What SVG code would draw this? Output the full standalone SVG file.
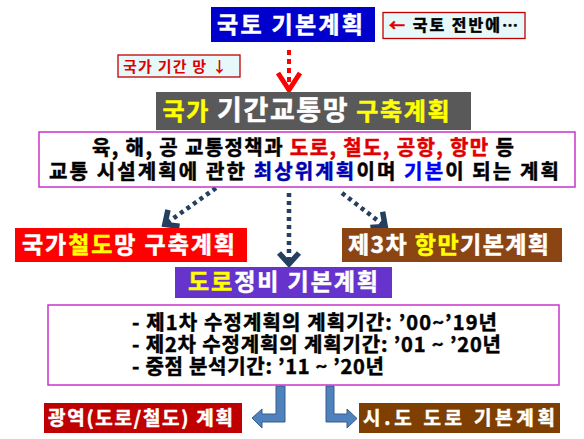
<svg xmlns="http://www.w3.org/2000/svg" width="584" height="439" viewBox="0 0 584 439">
<style>
text{font-family:"Noto Sans CJK KR","Noto Sans",sans-serif;font-weight:bold;text-anchor:middle;stroke-width:0.5}
.w{fill:#ffffff;stroke:#ffffff}.y{fill:#ffff00;stroke:#ffff00}.k{fill:#000000;stroke:#000000}.r{fill:#e00000;stroke:#e00000}.b{fill:#0000b0;stroke:#0000b0}.bl{fill:#0000ff;stroke:#0000ff}
.dot{stroke:#243f60;stroke-width:4.5;stroke-dasharray:4 4;fill:none}
.blk{fill:#4f81bd;stroke:#385d8a;stroke-width:1}
.note{fill:#e6f8fa;stroke:#c00000;stroke-width:1.3}
.frame{fill:#ffffff;stroke:#cc33cc;stroke-width:1.5}
.st{text-anchor:start}
</style>
<defs>
<marker id="hd" viewBox="-14 -12 16 24" markerWidth="16" markerHeight="24" refX="0" refY="0" orient="auto" markerUnits="userSpaceOnUse" overflow="visible">
<path d="M-12,-10 L-1,0 L-12,10" fill="none" stroke="#243f60" stroke-width="5.5"/>
</marker>
<marker id="hr" viewBox="-14 -12 16 24" markerWidth="16" markerHeight="24" refX="0" refY="0" orient="auto" markerUnits="userSpaceOnUse" overflow="visible">
<path d="M-18,-11 L-1,0 L-18,11" fill="none" stroke="#ff0000" stroke-width="5"/>
</marker>
</defs>
<rect width="584" height="439" fill="#ffffff"/>
<g id="connectors">
<line x1="289" y1="50" x2="289" y2="91" stroke="#ff0000" stroke-width="4" stroke-dasharray="5 4" marker-end="url(#hr)"/>
<line class="dot" x1="216" y1="188" x2="164" y2="225" marker-end="url(#hd)"/>
<line class="dot" x1="289" y1="193" x2="289" y2="265" marker-end="url(#hd)"/>
<line class="dot" x1="342" y1="193" x2="386" y2="227" marker-end="url(#hd)"/>
<path class="blk" d="M285,386 L285,422 L262,422 L262,428 L252,418 L262,409 L262,414 L276,414 L276,386 Z"/>
<path class="blk" d="M326,386 L326,422 L347,422 L347,428 L357,418.5 L347,409 L347,414 L334,414 L334,386 Z"/>
</g>
<g id="n-national">
<rect x="211" y="7" width="164" height="35" fill="#0000cc"/>
<text x="290" y="33" font-size="23" class="w" textLength="146" lengthAdjust="spacing">국토 기본계획</text>
</g>
<g id="n-note-top">
<rect class="note" x="383" y="12.5" width="142" height="26"/>
<text x="453.5" y="31" font-size="16" textLength="129" lengthAdjust="spacing"><tspan class="r">←</tspan><tspan class="k"> 국토 전반에…</tspan></text>
</g>
<g id="n-note-net">
<rect class="note" x="118" y="55" width="122" height="22"/>
<text x="175" y="71.5" font-size="15" fill="#e00000" style="stroke:none" textLength="104" lengthAdjust="spacing">국가 기간 망 ↓</text>
</g>
<g id="n-trunk">
<rect x="156" y="92" width="315" height="38" fill="#595959"/>
<text x="306" y="120" font-size="24" textLength="287" lengthAdjust="spacing"><tspan class="y">국가 </tspan><tspan class="w" font-size="27">기간교통망</tspan><tspan class="y"> 구축계획</tspan></text>
</g>
<g id="n-desc">
<rect class="frame" x="39" y="132" width="536" height="55"/>
<text x="303" y="154.5" font-size="20" class="k" textLength="422" lengthAdjust="spacing">육, 해, 공 교통정책과 <tspan class="r">도로, 철도, 공항, 항만</tspan> 등</text>
<text x="304" y="178.5" font-size="20" class="k" textLength="510" lengthAdjust="spacing">교통 시설계획에 관한 <tspan class="b">최상위계획</tspan>이며  <tspan class="bl">기본</tspan>이 되는 계획</text>
</g>
<g id="n-rail">
<rect x="15" y="228" width="232" height="34" fill="#ff0000"/>
<text x="128.5" y="253" font-size="23" class="w" textLength="213" lengthAdjust="spacing">국가<tspan class="y">철도</tspan>망 구축계획</text>
</g>
<g id="n-port">
<rect x="342" y="228" width="220" height="34" fill="#8b4513"/>
<text x="448.5" y="253" font-size="23" class="w" textLength="201" lengthAdjust="spacing">제3차 <tspan class="y">항만</tspan>기본계획</text>
</g>
<g id="n-road">
<rect x="175" y="267" width="217" height="31" fill="#6633cc"/>
<text x="283" y="290" font-size="23" class="w" textLength="190" lengthAdjust="spacing"><tspan class="y">도로</tspan>정비 기본계획</text>
</g>
<g id="n-road-detail">
<rect class="frame" x="48" y="305" width="511" height="80"/>
<text x="132" y="330" font-size="20" class="k st" textLength="365" lengthAdjust="spacing">- 제1차 수정계획의 계획기간: ’00~’19년</text>
<text x="132" y="352" font-size="20" class="k st" textLength="369" lengthAdjust="spacing">- 제2차 수정계획의 계획기간: ’01 ~ ’20년</text>
<text x="132" y="374" font-size="20" class="k st" textLength="252" lengthAdjust="spacing">- 중점 분석기간: ’11 ~ ’20년</text>
</g>
<g id="n-metro">
<rect x="44" y="403" width="198" height="30" fill="#c00000"/>
<text x="140.5" y="425" font-size="19" class="w" textLength="185" lengthAdjust="spacing">광역(도로/철도) 계획</text>
</g>
<g id="n-city">
<rect x="359" y="403" width="201" height="30" fill="#7f3f00"/>
<text x="459" y="425" font-size="19" class="w" textLength="192" lengthAdjust="spacing">시.도  도로 기본계획</text>
</g>
</svg>
